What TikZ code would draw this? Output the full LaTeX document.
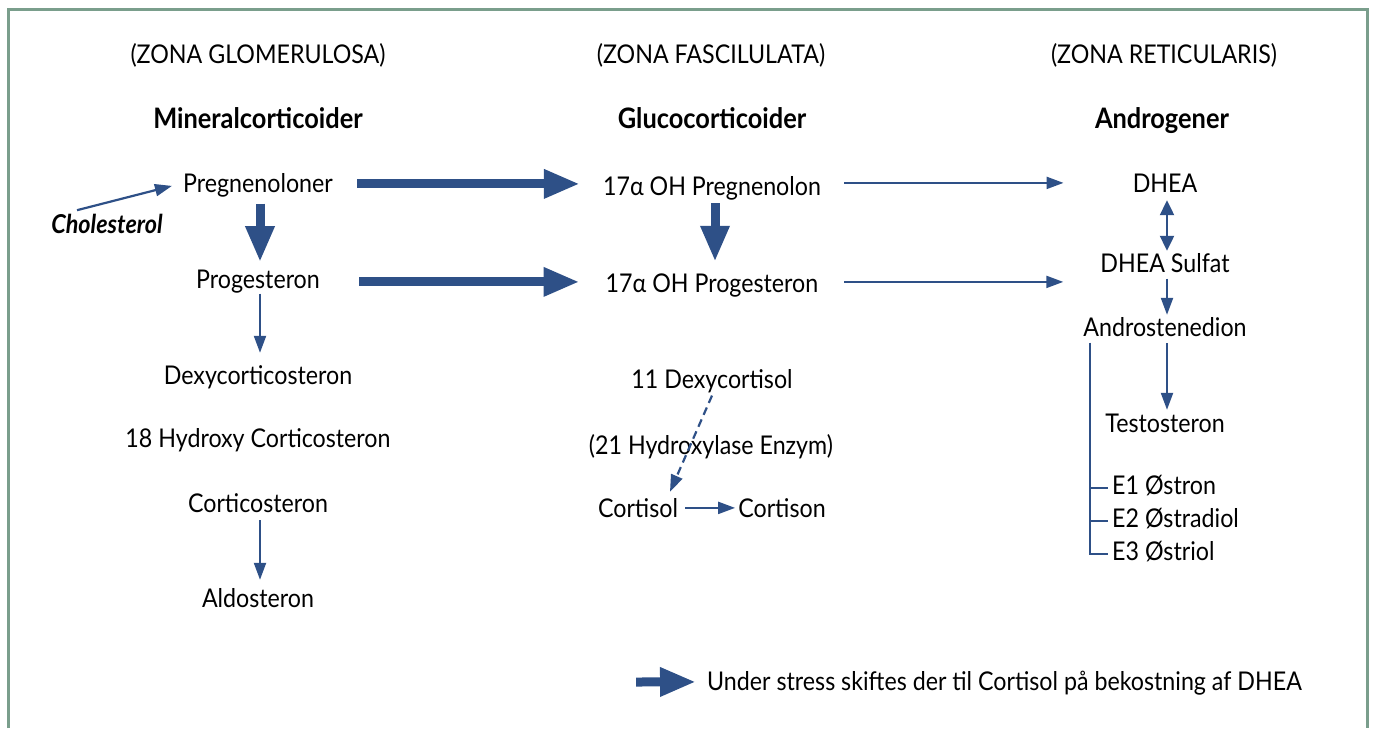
\documentclass[tikz,border=0pt]{standalone}
\usepackage{fontspec}
\setmainfont{Lato}[FakeStretch=0.9]
\usepackage{tikz}
\usetikzlibrary{arrows.meta}

\definecolor{arrowblue}{RGB}{46,80,135}
\definecolor{framegreen}{RGB}{122,158,140}

\tikzset{
  txt/.style={anchor=base, inner sep=0pt, text height=18.6pt, text depth=6.4pt,
    font=\fontsize{25.8}{30}\selectfont},
  hdr/.style={txt, font=\fontsize{28.2}{32}\selectfont\bfseries},
  bigarrow/.style={arrowblue, line width=9pt, -{Triangle[length=36pt,width=27pt]}},
  thinarrow/.style={arrowblue, line width=2.2pt, -{Triangle[length=17pt,width=12pt]}},
  dbarrow/.style={arrowblue, line width=2.2pt, {Triangle[length=15pt,width=14pt]}-{Triangle[length=15pt,width=14pt]}},
  dasharrow/.style={thinarrow, dash pattern=on 8pt off 5pt},
  bracketline/.style={arrowblue, line width=2pt}
}

\begin{document}
\begin{tikzpicture}[x=1pt, y=-1pt]
\useasboundingbox (0,0) rectangle (1375,728);
\draw[framegreen, line width=3pt] (8.5,728) -- (8.5,9.5) -- (1367.5,9.5) -- (1367.5,728);

\node[txt] (zG) at (258,63) {(ZONA GLOMERULOSA)};
\node[txt] (zF) at (711,63) {(ZONA FASCILULATA)};
\node[txt] (zR) at (1164,63) {(ZONA RETICULARIS)};
\node[hdr] (MC) at (258,128) {Mineralcorticoider};
\node[hdr] (GC) at (712,128) {Glucocorticoider};
\node[hdr] (AG) at (1162,128) {Androgener};

\node[txt] (Preg) at (258,192) {Pregnenoloner};
\node[txt, font=\fontsize{26}{30}\selectfont\bfseries\itshape] (Chol) at (107,233) {Cholesterol};
\node[txt] (Prog) at (258,288) {Progesteron};
\node[txt] (Dexy) at (258,384) {Dexycorticosteron};
\node[txt] (HCort) at (258,447) {18 Hydroxy Corticosteron};
\node[txt] (Cort) at (258,512) {Corticosteron};
\node[txt] (Aldo) at (258,607) {Aldosteron};

\node[txt] (OHPreg) at (712,195) {17α OH Pregnenolon};
\node[txt] (OHProg) at (712,292) {17α OH Progesteron};
\node[txt] (DCortisol) at (712,388) {11 Dexycortisol};
\node[txt] (Enzym) at (711,454) {(21 Hydroxylase Enzym)};
\node[txt] (Cortisol) at (638,517) {Cortisol};
\node[txt] (Cortison) at (782,517) {Cortison};

\node[txt] (DHEA) at (1165,192) {DHEA};
\node[txt] (DHEAS) at (1165,272) {DHEA Sulfat};
\node[txt] (Andro) at (1165,336) {Androstenedion};
\node[txt] (Testo) at (1165,432) {Testosteron};
\node[txt, anchor=base west] (E1) at (1112,494) {E1 Østron};
\node[txt, anchor=base west] (E2) at (1112,527) {E2 Østradiol};
\node[txt, anchor=base west] (E3) at (1112,560) {E3 Østriol};

\coordinate (L0) at (636,682);
\node[txt, anchor=base west] (Leg) at (707,690) {Under stress skiftes der til Cortisol på bekostning af DHEA};

\draw[thinarrow] ([xshift=-30pt,yshift=4pt]Chol.north) -- ([xshift=-11pt]Preg.west);
\draw[bigarrow] ([xshift=2pt,yshift=-5pt]Preg.south) -- ([xshift=2pt,yshift=7pt]Prog.north);
\draw[thinarrow] ([xshift=2pt,yshift=1pt]Prog.south) -- ([xshift=2pt,yshift=12.4pt]Dexy.north);
\draw[thinarrow] ([xshift=2pt,yshift=-1.6pt]Cort.south) -- ([xshift=2pt,yshift=8.4pt]Aldo.north);

\draw[bigarrow] ([xshift=24pt,yshift=2pt]Preg.east) -- ([xshift=-23pt,yshift=5pt]OHPreg.west);
\draw[bigarrow] ([xshift=39pt]Prog.east) -- ([xshift=-26pt,yshift=4pt]OHProg.west);
\draw[bigarrow] ([xshift=3pt,yshift=-1.6pt]OHPreg.south) -- ([xshift=3pt,yshift=11.4pt]OHProg.north);

\draw[thinarrow] ([xshift=23pt,yshift=6pt]OHPreg.east) -- ([xshift=-69pt,yshift=3pt]DHEA.west);
\draw[thinarrow] ([xshift=26pt,yshift=4pt]OHProg.east) -- ([xshift=-37pt,yshift=-16pt]DHEAS.west);

\draw[dbarrow] ([xshift=2pt,yshift=-1.6pt]DHEA.south) -- ([xshift=2pt,yshift=2.4pt]DHEAS.north);
\draw[thinarrow] ([xshift=2pt]DHEAS.south) -- ([xshift=2pt,yshift=2.4pt]Andro.north);
\draw[thinarrow] ([xshift=2pt,yshift=-0.6pt]Andro.south) -- ([xshift=2pt,yshift=3.4pt]Testo.north);

\draw[bracketline] ([xshift=7pt]Andro.south west) |- ([xshift=-4pt]E3.west);
\draw[bracketline] ([xshift=7pt]Andro.south west |- E1.west) -- ([xshift=-4pt]E1.west);
\draw[bracketline] ([xshift=7pt]Andro.south west |- E2.west) -- ([xshift=-4pt]E2.west);

\draw[dasharrow] ([yshift=-1pt]DCortisol.south) -- ([xshift=32pt,yshift=6.4pt]Cortisol.north);
\draw[thinarrow] ([xshift=7pt,yshift=3pt]Cortisol.east) -- ([xshift=-3pt,yshift=3pt]Cortison.west);

\draw[bigarrow] (L0) -- ([xshift=-11pt,yshift=2pt]Leg.west);
\end{tikzpicture}
\end{document}
